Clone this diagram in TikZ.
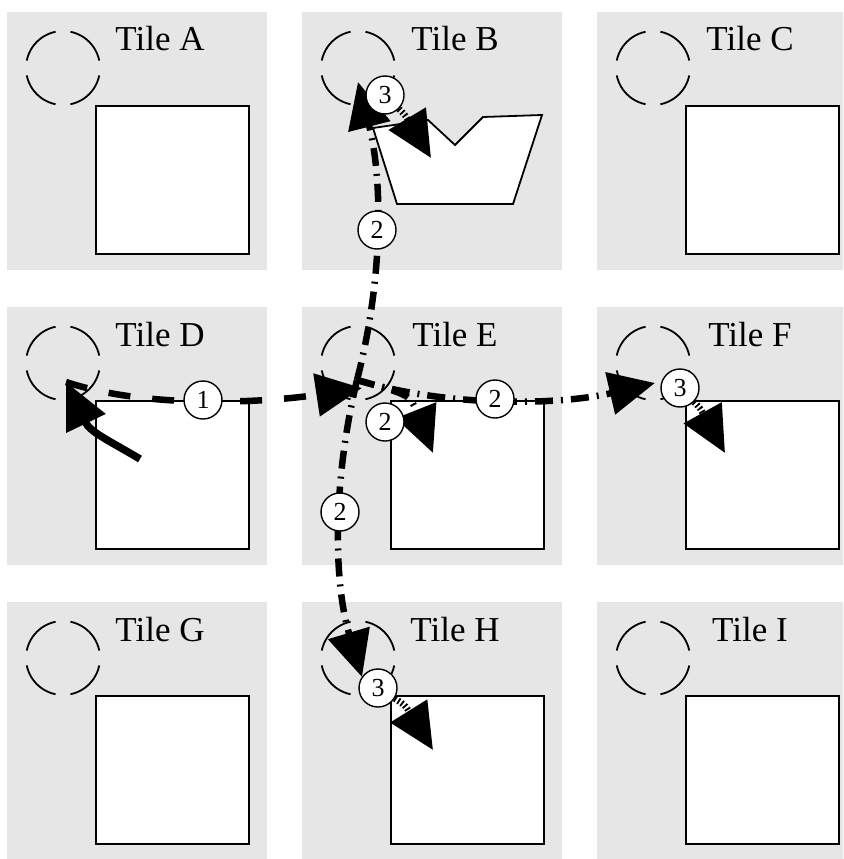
\documentclass[tikz,border=0pt]{standalone}
\usepackage{fontspec}
\setmainfont{Liberation Serif}
\definecolor{TileGray}{HTML}{E6E6E6}
\usetikzlibrary{arrows.meta,positioning,calc}

\tikzset{
  tilebg/.style={rectangle,fill=TileGray,draw=none,anchor=north west,
                 minimum width=260pt,minimum height=258pt,inner sep=0pt},
  tilelbl/.style={anchor=base,inner sep=0pt,font=\fontsize{35}{40}\selectfont},
  portring/.style={line width=1.8pt,dash pattern=on 43.1pt off 15pt,dash phase=50.6pt},
  memsq/.style={rectangle,draw,line width=1.8pt,fill=white,anchor=north west,
                minimum width=153pt,minimum height=148pt,inner sep=0pt},
  numlbl/.style={circle,draw,line width=1.4pt,fill=white,minimum size=38pt,
                 inner sep=0pt,font=\fontsize{26}{28}\selectfont},
  bigtip/.style={-{Triangle[length=46pt,width=42pt]}},
  entry/.style={bigtip,line width=7.5pt},
  stepone/.style={bigtip,line width=6.5pt,dash pattern=on 22pt off 22pt},
  steptwo/.style={bigtip,line width=6.5pt,dash pattern=on 18pt off 8pt on 2pt off 8pt},
  stepthree/.style={bigtip,line width=6.5pt,dash pattern=on 1.8pt off 2.2pt},
}

\begin{document}
\begin{tikzpicture}[x=1pt,y=-1pt]
  \useasboundingbox (0,0) rectangle (843,859);
  \fill[white] (0,0) rectangle (843,859);
  \clip (0,0) rectangle (843,859);

  % tiles
  \foreach \nm/\cl/\rw in {A/0/0,B/1/0,C/2/0,D/0/1,E/1/1,F/2/1,G/0/2,H/1/2,I/2/2}{
    \node[tilebg] (tile\nm) at ({7+295*\cl},{12+295*\rw}) {};
    \draw[portring] ({63+295*\cl},{68+295*\rw}) circle[radius=37pt];
    \node[tilelbl] (lbl\nm) at ({160+295*\cl},{51+295*\rw}) {Tile \nm};
  }
  \foreach \nm/\cl/\rw in {A/0/0,C/2/0,D/0/1,E/1/1,F/2/1,G/0/2,H/1/2,I/2/2}
    \node[memsq] (sq\nm) at ({95+295*\cl},{105+295*\rw}) {};
  \draw[line width=1.8pt,fill=white] (373,128) -- (397,204) -- (513,204) -- (542,115)
    -- (483,117) -- (455,145) -- (428,120) -- cycle;

  % arrow ends
  \coordinate (dstart) at (140,459);
  \coordinate (dtip) at (66,382);
  \coordinate (etip) at (362,388);
  \coordinate (esrc) at (357,380);
  \coordinate (btip) at (358,82);
  \coordinate (ftip) at (655,383);
  \coordinate (htip) at (362,677);
  \coordinate (einner) at (433,453);
  \coordinate (binner) at (431,158);
  \coordinate (finner) at (725,453);
  \coordinate (hinner) at (433,750);

  \draw[entry] (dstart) .. controls (108,440) and (90,432) .. (dtip);
  \draw[stepone] (dtip) .. controls (150,410) and (270,402) .. (etip);
  \draw[steptwo] (esrc) .. controls (383,280) and (383,180) .. (btip);
  \draw[steptwo] (esrc) .. controls (450,408) and (560,405) .. (ftip);
  \draw[steptwo] (esrc) .. controls (333,480) and (333,580) .. (htip);
  \draw[steptwo] (esrc) .. controls (410,395) .. (einner);

  % step labels
  \node[numlbl] (one) at (203,400) {1};
  \node[numlbl] (twoup) at (377,230) {2};
  \node[numlbl] (tworight) at (495,399) {2};
  \node[numlbl] (twodown) at (340,512) {2};
  \node[numlbl] (twoself) at (385,422) {2};
  \node[numlbl] (threeB) at (385,95) {3};
  \node[numlbl] (threeF) at (680,388) {3};
  \node[numlbl] (threeH) at (378,688) {3};

  \draw[stepthree] (threeB) .. controls (405,115) .. (binner);
  \draw[stepthree] (threeF) .. controls (700,408) .. (finner);
  \draw[stepthree] (threeH) .. controls (405,705) .. (hinner);
\end{tikzpicture}
\end{document}
